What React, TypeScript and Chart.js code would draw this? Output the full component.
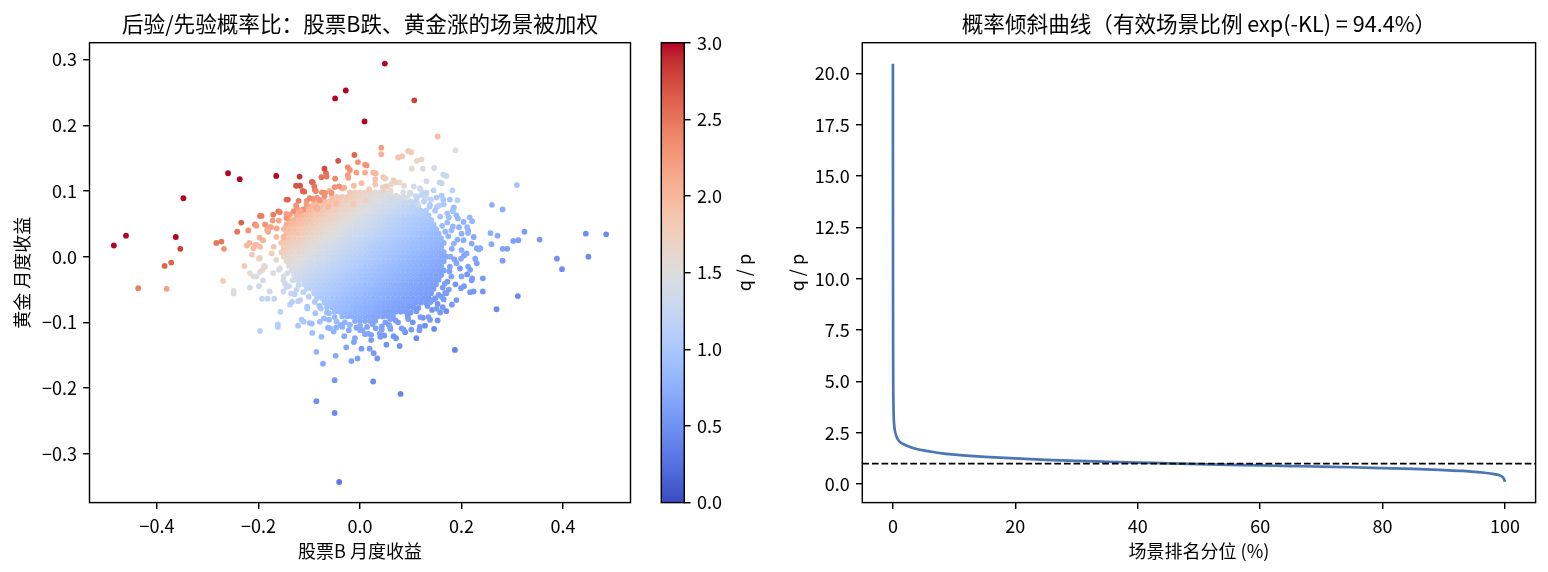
import { useEffect, useRef } from "react";
import { Chart, registerables } from "chart.js";

Chart.register(...registerables);

const FONT = "'Noto Sans CJK SC', 'Noto Sans', 'DejaVu Sans', sans-serif";

// ---------------- texts ----------------
const leftTitle = "后验/先验概率比：股票B跌、黄金涨的场景被加权";
const leftXLabel = "股票B 月度收益";
const leftYLabel = "黄金 月度收益";
const colorbarLabel = "q / p";
const rightTitle = "概率倾斜曲线（有效场景比例 exp(-KL) = 94.4%）";
const rightXLabel = "场景排名分位 (%)";
const rightYLabel = "q / p";

// ---------------- ticks ----------------
const scatterXTicks = [-0.4, -0.2, 0, 0.2, 0.4];
const scatterYTicks = [-0.3, -0.2, -0.1, 0, 0.1, 0.2, 0.3];
const colorbarTicks = [0, 0.5, 1, 1.5, 2, 2.5, 3];
const curveXTicks = [0, 20, 40, 60, 80, 100];
const curveYTicks = [0, 2.5, 5, 7.5, 10, 12.5, 15, 17.5, 20];

// colour range of q/p (vmin, vmax)
const colorRange = [0, 3];
// reference line q/p = 1
const referenceRatio = 1;

// ---------------- scatter: dense core (rows of y, x-values, q/p values) ----------------
const coreRows: [number, number[], number[]][] = [
  [0.098, [-0.02,-0.01,0,0.01,0.02,0.03,0.04,0.05,0.06],
    [1.82,1.77,1.72,1.67,1.63,1.59,1.54,1.50,1.46]],
  [0.091, [-0.055,-0.045,-0.035,-0.025,-0.015,-0.005,0.005,0.015,0.025,0.035,0.045,0.055,0.065,0.075,0.085],
    [1.94,1.89,1.84,1.79,1.74,1.69,1.64,1.60,1.56,1.51,1.47,1.43,1.39,1.36,1.32]],
  [0.084, [-0.09,-0.08,-0.07,-0.06,-0.05,-0.04,-0.03,-0.02,-0.01,0,0.01,0.02,0.03,0.04,0.05,0.06,0.07,0.08,0.09,0.1,0.11],
    [2.07,2.01,1.96,1.91,1.85,1.80,1.76,1.71,1.66,1.62,1.57,1.53,1.49,1.45,1.41,1.37,1.33,1.30,1.26,1.23,1.19]],
  [0.077, [-0.105,-0.095,-0.085,-0.075,-0.065,-0.055,-0.045,-0.035,-0.025,-0.015,-0.005,0.005,0.015,0.025,0.035,0.045,0.055,0.065,0.075,0.085,0.095,0.105,0.115],
    [2.09,2.03,1.98,1.92,1.87,1.82,1.77,1.72,1.68,1.63,1.59,1.54,1.50,1.46,1.42,1.38,1.35,1.31,1.27,1.24,1.21,1.17,1.14]],
  [0.070, [-0.12,-0.11,-0.1,-0.09,-0.08,-0.07,-0.06,-0.05,-0.04,-0.03,-0.02,-0.01,0,0.01,0.02,0.03,0.04,0.05,0.06,0.07,0.08,0.09,0.1,0.11,0.12,0.13],
    [2.11,2.05,2.00,1.94,1.89,1.84,1.79,1.74,1.69,1.65,1.60,1.56,1.52,1.48,1.44,1.40,1.36,1.32,1.29,1.25,1.22,1.18,1.15,1.12,1.09,1.06]],
  [0.063, [-0.125,-0.115,-0.105,-0.095,-0.085,-0.075,-0.065,-0.055,-0.045,-0.035,-0.025,-0.015,-0.005,0.005,0.015,0.025,0.035,0.045,0.055,0.065,0.075,0.085,0.095,0.105,0.115,0.125,0.135],
    [2.07,2.02,1.96,1.91,1.86,1.81,1.76,1.71,1.66,1.62,1.57,1.53,1.49,1.45,1.41,1.37,1.33,1.30,1.26,1.23,1.20,1.16,1.13,1.10,1.07,1.04,1.01]],
  [0.056, [-0.14,-0.13,-0.12,-0.11,-0.1,-0.09,-0.08,-0.07,-0.06,-0.05,-0.04,-0.03,-0.02,-0.01,0,0.01,0.02,0.03,0.04,0.05,0.06,0.07,0.08,0.09,0.1,0.11,0.12,0.13,0.14],
    [2.09,2.04,1.98,1.93,1.88,1.82,1.77,1.73,1.68,1.63,1.59,1.55,1.51,1.46,1.42,1.39,1.35,1.31,1.28,1.24,1.21,1.17,1.14,1.11,1.08,1.05,1.02,1.00,0.97]],
  [0.049, [-0.145,-0.135,-0.125,-0.115,-0.105,-0.095,-0.085,-0.075,-0.065,-0.055,-0.045,-0.035,-0.025,-0.015,-0.005,0.005,0.015,0.025,0.035,0.045,0.055,0.065,0.075,0.085,0.095,0.105,0.115,0.125,0.135,0.145],
    [2.05,2.00,1.94,1.89,1.84,1.79,1.74,1.69,1.65,1.60,1.56,1.52,1.48,1.44,1.40,1.36,1.32,1.29,1.25,1.22,1.19,1.15,1.12,1.09,1.06,1.03,1.01,0.98,0.95,0.93]],
  [0.042, [-0.15,-0.14,-0.13,-0.12,-0.11,-0.1,-0.09,-0.08,-0.07,-0.06,-0.05,-0.04,-0.03,-0.02,-0.01,0,0.01,0.02,0.03,0.04,0.05,0.06,0.07,0.08,0.09,0.1,0.11,0.12,0.13,0.14,0.15],
    [2.02,1.97,1.91,1.86,1.81,1.76,1.71,1.67,1.62,1.58,1.53,1.49,1.45,1.41,1.37,1.34,1.30,1.27,1.23,1.20,1.17,1.13,1.10,1.07,1.04,1.02,0.99,0.96,0.94,0.91,0.89]],
  [0.035, [-0.145,-0.135,-0.125,-0.115,-0.105,-0.095,-0.085,-0.075,-0.065,-0.055,-0.045,-0.035,-0.025,-0.015,-0.005,0.005,0.015,0.025,0.035,0.045,0.055,0.065,0.075,0.085,0.095,0.105,0.115,0.125,0.135,0.145,0.155],
    [1.93,1.88,1.83,1.78,1.73,1.68,1.64,1.59,1.55,1.51,1.47,1.43,1.39,1.35,1.31,1.28,1.24,1.21,1.18,1.14,1.11,1.08,1.05,1.03,1.00,0.97,0.94,0.92,0.89,0.87,0.85]],
  [0.028, [-0.15,-0.14,-0.13,-0.12,-0.11,-0.1,-0.09,-0.08,-0.07,-0.06,-0.05,-0.04,-0.03,-0.02,-0.01,0,0.01,0.02,0.03,0.04,0.05,0.06,0.07,0.08,0.09,0.1,0.11,0.12,0.13,0.14,0.15,0.16],
    [1.89,1.84,1.79,1.74,1.70,1.65,1.61,1.56,1.52,1.48,1.44,1.40,1.36,1.33,1.29,1.25,1.22,1.19,1.15,1.12,1.09,1.06,1.03,1.01,0.98,0.95,0.93,0.90,0.88,0.85,0.83,0.81]],
  [0.021, [-0.155,-0.145,-0.135,-0.125,-0.115,-0.105,-0.095,-0.085,-0.075,-0.065,-0.055,-0.045,-0.035,-0.025,-0.015,-0.005,0.005,0.015,0.025,0.035,0.045,0.055,0.065,0.075,0.085,0.095,0.105,0.115,0.125,0.135,0.145,0.155,0.165],
    [1.86,1.81,1.76,1.71,1.67,1.62,1.58,1.53,1.49,1.45,1.41,1.38,1.34,1.30,1.27,1.23,1.20,1.17,1.13,1.10,1.07,1.04,1.02,0.99,0.96,0.94,0.91,0.89,0.86,0.84,0.82,0.79,0.77]],
  [0.014, [-0.15,-0.14,-0.13,-0.12,-0.11,-0.1,-0.09,-0.08,-0.07,-0.06,-0.05,-0.04,-0.03,-0.02,-0.01,0,0.01,0.02,0.03,0.04,0.05,0.06,0.07,0.08,0.09,0.1,0.11,0.12,0.13,0.14,0.15,0.16],
    [1.78,1.73,1.68,1.64,1.59,1.55,1.51,1.47,1.43,1.39,1.35,1.31,1.28,1.24,1.21,1.18,1.15,1.11,1.08,1.05,1.03,1.00,0.97,0.95,0.92,0.89,0.87,0.85,0.82,0.80,0.78,0.76]],
  [0.007, [-0.155,-0.145,-0.135,-0.125,-0.115,-0.105,-0.095,-0.085,-0.075,-0.065,-0.055,-0.045,-0.035,-0.025,-0.015,-0.005,0.005,0.015,0.025,0.035,0.045,0.055,0.065,0.075,0.085,0.095,0.105,0.115,0.125,0.135,0.145,0.155,0.165],
    [1.75,1.70,1.65,1.61,1.57,1.52,1.48,1.44,1.40,1.36,1.33,1.29,1.26,1.22,1.19,1.16,1.13,1.10,1.07,1.04,1.01,0.98,0.95,0.93,0.90,0.88,0.85,0.83,0.81,0.79,0.77,0.75,0.72]],
  [0.0, [-0.15,-0.14,-0.13,-0.12,-0.11,-0.1,-0.09,-0.08,-0.07,-0.06,-0.05,-0.04,-0.03,-0.02,-0.01,0,0.01,0.02,0.03,0.04,0.05,0.06,0.07,0.08,0.09,0.1,0.11,0.12,0.13,0.14,0.15,0.16,0.17],
    [1.67,1.62,1.58,1.54,1.50,1.46,1.42,1.38,1.34,1.30,1.27,1.23,1.20,1.17,1.14,1.11,1.08,1.05,1.02,0.99,0.96,0.94,0.91,0.89,0.86,0.84,0.82,0.79,0.77,0.75,0.73,0.71,0.69]],
  [-0.007, [-0.145,-0.135,-0.125,-0.115,-0.105,-0.095,-0.085,-0.075,-0.065,-0.055,-0.045,-0.035,-0.025,-0.015,-0.005,0.005,0.015,0.025,0.035,0.045,0.055,0.065,0.075,0.085,0.095,0.105,0.115,0.125,0.135,0.145,0.155,0.165],
    [1.60,1.55,1.51,1.47,1.43,1.39,1.35,1.32,1.28,1.25,1.21,1.18,1.15,1.12,1.09,1.06,1.03,1.00,0.97,0.95,0.92,0.90,0.87,0.85,0.82,0.80,0.78,0.76,0.74,0.72,0.70,0.68]],
  [-0.014, [-0.14,-0.13,-0.12,-0.11,-0.1,-0.09,-0.08,-0.07,-0.06,-0.05,-0.04,-0.03,-0.02,-0.01,0,0.01,0.02,0.03,0.04,0.05,0.06,0.07,0.08,0.09,0.1,0.11,0.12,0.13,0.14,0.15,0.16],
    [1.52,1.48,1.44,1.40,1.37,1.33,1.29,1.26,1.22,1.19,1.16,1.13,1.10,1.07,1.04,1.01,0.98,0.96,0.93,0.90,0.88,0.86,0.83,0.81,0.79,0.77,0.75,0.73,0.71,0.69,0.67]],
  [-0.021, [-0.135,-0.125,-0.115,-0.105,-0.095,-0.085,-0.075,-0.065,-0.055,-0.045,-0.035,-0.025,-0.015,-0.005,0.005,0.015,0.025,0.035,0.045,0.055,0.065,0.075,0.085,0.095,0.105,0.115,0.125,0.135,0.145,0.155,0.165],
    [1.46,1.42,1.38,1.34,1.30,1.27,1.24,1.20,1.17,1.14,1.11,1.08,1.05,1.02,0.99,0.96,0.94,0.91,0.89,0.86,0.84,0.82,0.80,0.77,0.75,0.73,0.71,0.69,0.67,0.66,0.64]],
  [-0.028, [-0.13,-0.12,-0.11,-0.1,-0.09,-0.08,-0.07,-0.06,-0.05,-0.04,-0.03,-0.02,-0.01,0,0.01,0.02,0.03,0.04,0.05,0.06,0.07,0.08,0.09,0.1,0.11,0.12,0.13,0.14,0.15,0.16],
    [1.39,1.35,1.32,1.28,1.25,1.21,1.18,1.15,1.12,1.09,1.06,1.03,1.00,0.97,0.95,0.92,0.90,0.87,0.85,0.83,0.80,0.78,0.76,0.74,0.72,0.70,0.68,0.66,0.64,0.63]],
  [-0.035, [-0.125,-0.115,-0.105,-0.095,-0.085,-0.075,-0.065,-0.055,-0.045,-0.035,-0.025,-0.015,-0.005,0.005,0.015,0.025,0.035,0.045,0.055,0.065,0.075,0.085,0.095,0.105,0.115,0.125,0.135,0.145,0.155],
    [1.33,1.30,1.26,1.23,1.19,1.16,1.13,1.10,1.07,1.04,1.01,0.98,0.96,0.93,0.91,0.88,0.86,0.83,0.81,0.79,0.77,0.75,0.73,0.71,0.69,0.67,0.65,0.63,0.62]],
  [-0.042, [-0.11,-0.1,-0.09,-0.08,-0.07,-0.06,-0.05,-0.04,-0.03,-0.02,-0.01,0,0.01,0.02,0.03,0.04,0.05,0.06,0.07,0.08,0.09,0.1,0.11,0.12,0.13,0.14,0.15],
    [1.24,1.20,1.17,1.14,1.11,1.08,1.05,1.02,0.99,0.97,0.94,0.91,0.89,0.87,0.84,0.82,0.80,0.78,0.75,0.73,0.71,0.69,0.68,0.66,0.64,0.62,0.61]],
  [-0.049, [-0.105,-0.095,-0.085,-0.075,-0.065,-0.055,-0.045,-0.035,-0.025,-0.015,-0.005,0.005,0.015,0.025,0.035,0.045,0.055,0.065,0.075,0.085,0.095,0.105,0.115,0.125,0.135,0.145],
    [1.18,1.15,1.12,1.09,1.06,1.03,1.00,0.98,0.95,0.92,0.90,0.87,0.85,0.83,0.80,0.78,0.76,0.74,0.72,0.70,0.68,0.66,0.65,0.63,0.61,0.59]],
  [-0.056, [-0.09,-0.08,-0.07,-0.06,-0.05,-0.04,-0.03,-0.02,-0.01,0,0.01,0.02,0.03,0.04,0.05,0.06,0.07,0.08,0.09,0.1,0.11,0.12,0.13,0.14],
    [1.10,1.07,1.04,1.01,0.98,0.96,0.93,0.91,0.88,0.86,0.83,0.81,0.79,0.77,0.75,0.73,0.71,0.69,0.67,0.65,0.63,0.62,0.60,0.58]],
  [-0.063, [-0.085,-0.075,-0.065,-0.055,-0.045,-0.035,-0.025,-0.015,-0.005,0.005,0.015,0.025,0.035,0.045,0.055,0.065,0.075,0.085,0.095,0.105,0.115,0.125,0.135],
    [1.05,1.02,1.00,0.97,0.94,0.92,0.89,0.87,0.84,0.82,0.80,0.78,0.76,0.74,0.72,0.70,0.68,0.66,0.64,0.62,0.61,0.59,0.57]],
  [-0.070, [-0.07,-0.06,-0.05,-0.04,-0.03,-0.02,-0.01,0,0.01,0.02,0.03,0.04,0.05,0.06,0.07,0.08,0.09,0.1,0.11,0.12],
    [0.98,0.95,0.92,0.90,0.88,0.85,0.83,0.81,0.78,0.76,0.74,0.72,0.70,0.68,0.66,0.65,0.63,0.61,0.60,0.58]],
  [-0.077, [-0.065,-0.055,-0.045,-0.035,-0.025,-0.015,-0.005,0.005,0.015,0.025,0.035,0.045,0.055,0.065,0.075,0.085,0.095,0.105],
    [0.93,0.91,0.88,0.86,0.84,0.81,0.79,0.77,0.75,0.73,0.71,0.69,0.67,0.65,0.64,0.62,0.60,0.58]],
  [-0.084, [-0.05,-0.04,-0.03,-0.02,-0.01,0,0.01,0.02,0.03,0.04,0.05,0.06,0.07,0.08,0.09],
    [0.87,0.84,0.82,0.80,0.78,0.76,0.74,0.72,0.70,0.68,0.66,0.64,0.62,0.61,0.59]],
  [-0.091, [-0.035,-0.025,-0.015,-0.005,0.005,0.015,0.025,0.035,0.045,0.055,0.065],
    [0.81,0.79,0.76,0.74,0.72,0.70,0.68,0.67,0.65,0.63,0.61]],
  [-0.098, [-0.01,0,0.01,0.02,0.03],
    [0.73,0.71,0.69,0.67,0.65]],
];

// ---------------- scatter: outer scenarios [stock B return, gold return, q/p] ----------------
const outerScenarios: [number, number, number][] = [
  // rim of the cloud
  [-0.035,0.104,2.05],[-0.012,0.108,1.95],[0.018,0.103,1.8],[0.045,0.106,1.75],[0.06,0.101,1.6],[0.085,0.098,1.5],
  [-0.06,0.1,2.05],[0.003,0.112,1.95],[0.03,0.11,1.85],[0.11,0.092,1.35],[0.125,0.097,1.3],[0.14,0.087,1.2],
  [0.175,0.06,0.9],[0.18,0.04,0.85],[0.185,0.02,0.78],[0.178,0.0,0.72],[0.19,-0.01,0.68],[0.18,-0.03,0.64],
  [0.175,-0.05,0.6],[0.195,0.045,0.8],[0.2,0.01,0.72],[0.205,-0.045,0.58],[0.165,-0.065,0.6],[0.185,0.075,0.9],[0.165,0.08,1.0],
  [-0.03,-0.1,0.78],[0.0,-0.105,0.72],[0.025,-0.103,0.66],[0.05,-0.1,0.62],[0.07,-0.097,0.6],[0.1,-0.085,0.58],
  [0.115,-0.078,0.57],[0.13,-0.07,0.57],[0.145,-0.065,0.57],[-0.05,-0.092,0.82],[-0.065,-0.085,0.88],[-0.08,-0.075,0.94],
  [0.06,-0.11,0.6],[0.01,-0.118,0.66],
  [-0.165,0.03,1.95],[-0.17,0.015,1.85],[-0.165,-0.005,1.65],[-0.16,-0.02,1.5],[-0.15,-0.03,1.42],[-0.14,-0.045,1.3],
  [-0.125,-0.05,1.22],[-0.175,0.045,2.1],[-0.16,0.055,2.15],[-0.145,0.065,2.2],[-0.125,0.075,2.25],[-0.105,0.085,2.3],
  [-0.085,0.09,2.25],[-0.075,0.098,2.3],
  [0.174,0.031,0.79],[0.181,0.012,0.71],[0.186,-0.004,0.65],[0.176,-0.022,0.62],[0.192,0.026,0.73],[0.197,-0.018,0.59],
  [0.183,0.046,0.82],[0.172,0.052,0.87],[0.205,0.002,0.63],[0.211,-0.027,0.55],[0.193,0.058,0.84],[0.224,0.03,0.68],
  [0.172,-0.038,0.58],[0.188,-0.042,0.54],[0.2,0.035,0.75],
  [0.162,0.047,0.88],[0.158,0.061,0.94],[0.148,0.07,1.01],[0.137,0.076,1.07],[0.126,0.084,1.14],[0.112,0.09,1.22],
  [0.098,0.097,1.31],[0.168,0.038,0.83],[0.152,0.076,1.02],[0.131,0.097,1.2],[0.145,0.101,1.17],[0.118,0.104,1.28],
  [0.172,0.066,0.93],[0.161,0.093,1.08],
  [0.163,-0.047,0.57],[0.149,-0.063,0.55],[0.133,-0.075,0.55],[0.111,-0.083,0.56],[0.094,-0.091,0.57],[0.075,-0.1,0.57],
  [0.057,-0.104,0.59],[0.142,-0.081,0.52],[0.124,-0.093,0.52],[0.104,-0.1,0.53],[0.168,-0.055,0.54],[0.153,-0.072,0.52],
  [0.089,-0.115,0.51],[0.128,-0.105,0.48],[0.066,-0.121,0.53],[0.17,-0.083,0.48],[0.111,-0.124,0.46],[0.146,-0.11,0.45],
  [0.043,-0.106,0.61],[0.031,-0.109,0.62],[0.014,-0.107,0.65],[-0.007,-0.108,0.69],[-0.022,-0.112,0.71],[-0.038,-0.104,0.77],
  [0.048,-0.12,0.56],[0.022,-0.127,0.59],[-0.012,-0.13,0.64],[-0.031,-0.121,0.7],[-0.052,-0.114,0.76],[0.003,-0.14,0.58],
  [-0.027,-0.138,0.64],[0.052,-0.134,0.52],
  [-0.061,-0.086,0.89],[-0.077,-0.079,0.96],[-0.089,-0.069,1.03],[-0.101,-0.061,1.11],[-0.112,-0.054,1.18],[-0.121,-0.043,1.27],
  [-0.133,-0.036,1.35],[-0.143,-0.025,1.46],[-0.088,-0.086,0.95],[-0.104,-0.079,1.03],[-0.118,-0.066,1.13],[-0.136,-0.056,1.25],
  [-0.071,-0.094,0.88],[-0.148,-0.041,1.38],
  // upper-left warm fringe
  [-0.113,0.100,2.6],[-0.145,0.087,2.55],[-0.121,0.085,2.45],[-0.095,0.114,2.6],[-0.067,0.127,2.55],[0.010,0.140,2.25],
  [0.164,0.125,1.25],[0.157,0.113,1.25],[0.100,0.096,1.4],[-0.024,0.136,2.35],[-0.024,0.124,2.25],[-0.007,0.128,2.2],
  [0.010,0.128,2.1],[0.026,0.128,2.0],[0.046,0.121,1.85],[0.066,0.116,1.75],[0.072,0.113,1.7],[0.087,0.108,1.6],
  [0.052,0.107,1.8],[-0.041,0.107,2.3],[-0.069,0.097,2.35],[-0.056,0.097,2.3],[-0.089,0.102,2.45],[-0.099,0.089,2.4],
  [-0.079,0.086,2.3],[-0.085,0.074,2.2],[-0.112,0.072,2.3],[-0.131,0.069,2.35],[-0.145,0.059,2.3],[-0.161,0.069,2.5],
  [-0.171,0.064,2.45],[-0.187,0.049,2.3],[-0.197,0.062,2.5],[-0.207,0.049,2.35],[-0.181,0.038,2.15],[-0.164,0.043,2.15],
  [-0.151,0.030,2.0],[-0.207,0.018,2.0],[-0.197,0.015,1.95],[-0.191,0.025,2.05],[-0.210,0.013,1.95],[-0.213,0.003,1.8],
  [-0.197,-0.002,1.7],[-0.174,0.005,1.75],[-0.187,-0.015,1.55],[-0.197,-0.023,1.5],[-0.210,-0.030,1.5],[-0.191,-0.036,1.4],
  [-0.171,-0.025,1.45],[-0.158,-0.018,1.5],[-0.151,-0.036,1.35],[-0.145,-0.046,1.3],[-0.151,-0.053,1.3],[-0.122,-0.068,1.15],
  [-0.138,-0.073,1.15],[-0.115,-0.096,1.0],[-0.099,-0.101,0.95],[-0.079,-0.099,0.92],[-0.059,-0.109,0.82],[-0.046,-0.099,0.85],
  [-0.020,-0.104,0.78],[0.000,-0.112,0.72],[0.016,-0.117,0.68],[0.039,-0.117,0.65],[0.059,-0.107,0.65],[0.082,-0.109,0.6],
  [0.118,-0.107,0.56],[0.138,-0.096,0.55],[0.158,-0.085,0.55],[0.217,-0.054,0.55],[0.220,-0.036,0.58],[0.217,-0.020,0.62],
  [0.230,-0.010,0.62],[0.210,0.005,0.68],[0.220,0.020,0.7],[0.230,0.013,0.68],[0.204,0.025,0.72],[0.213,0.040,0.75],
  [0.204,0.053,0.78],[0.190,0.063,0.82],[0.184,0.074,0.88],[0.177,0.087,0.95],[0.164,0.087,1.0],[0.151,0.090,1.05],
  [0.138,0.079,1.05],[0.128,0.087,1.15],[0.121,0.094,1.2],[0.177,-0.015,0.65],[0.167,-0.041,0.62],[0.161,-0.061,0.6],
  [0.190,-0.066,0.56],[0.151,-0.079,0.58],
  // lower half scattered scenarios
  [-0.437,-0.048,2.45],[-0.381,-0.049,2.2],[-0.270,-0.037,1.75],[-0.249,-0.052,1.45],[-0.249,-0.056,1.45],[-0.228,-0.014,1.8],
  [-0.217,-0.025,1.55],[-0.217,-0.047,1.35],[-0.199,-0.045,1.35],[-0.197,-0.113,1.15],[-0.193,-0.064,1.25],[-0.182,-0.064,1.25],
  [-0.169,-0.064,1.25],[-0.162,-0.103,1.1],[-0.162,-0.107,1.1],[-0.157,-0.084,1.15],[-0.178,-0.053,1.35],[-0.204,-0.030,1.5],
  [-0.192,-0.020,1.6],[-0.189,-0.014,1.65],[-0.199,-0.003,1.75],[-0.122,-0.105,1.0],[-0.111,-0.099,1.0],[-0.094,-0.116,0.9],
  [-0.076,-0.122,0.85],[-0.086,-0.145,0.8],[-0.073,-0.163,0.72],[-0.048,-0.151,0.7],[-0.050,-0.188,0.55],[-0.086,-0.220,0.5],
  [-0.050,-0.238,0.45],[-0.041,-0.343,0.32],[0.026,-0.190,0.45],[0.080,-0.209,0.4],[-0.017,-0.159,0.62],[-0.005,-0.155,0.62],
  [0.019,-0.140,0.6],[0.027,-0.147,0.56],[0.034,-0.155,0.53],[0.071,-0.124,0.52],[0.078,-0.136,0.5],[0.187,-0.142,0.38],
  [0.269,-0.080,0.45],[0.311,-0.060,0.45],[0.224,-0.053,0.55],[0.242,-0.053,0.53],[0.242,-0.033,0.57],[0.221,-0.033,0.6],
  [0.199,-0.048,0.6],[0.181,-0.073,0.55],[0.163,-0.077,0.55],[0.153,-0.097,0.52],[0.086,-0.111,0.58],[0.101,-0.111,0.56],
  [0.117,-0.112,0.55],[0.135,-0.092,0.58],[0.119,-0.092,0.6],[0.095,-0.095,0.6],[0.060,-0.095,0.65],[0.043,-0.111,0.63],
  [0.022,-0.119,0.63],[0.040,-0.122,0.6],[0.005,-0.112,0.68],[-0.010,-0.124,0.68],[-0.035,-0.107,0.76],[-0.047,-0.108,0.78],
  [-0.061,-0.096,0.82],[-0.063,-0.108,0.8],[-0.095,-0.102,0.9],[-0.134,-0.069,1.1],[-0.129,-0.057,1.15],[-0.104,-0.076,1.0],
  [0.199,-0.003,0.7],[0.213,-0.015,0.65],[0.227,-0.003,0.67],[0.237,0.013,0.68],[0.200,-0.030,0.65],[0.155,-0.058,0.6],
  [0.139,-0.069,0.6],[0.170,-0.056,0.6],
  // upper half scattered scenarios
  [0.153,0.183,1.95],[0.188,0.162,1.5],[0.042,0.166,2.2],[0.042,0.156,2.05],[0.075,0.151,1.85],[0.083,0.153,1.85],
  [0.095,0.161,1.8],[0.101,0.159,1.8],[0.112,0.146,1.65],[0.121,0.148,1.6],[0.102,0.134,1.55],[0.124,0.134,1.45],
  [0.146,0.135,1.38],[0.170,0.123,1.25],[0.161,0.112,1.25],[0.131,0.115,1.35],[0.106,0.107,1.4],[0.119,0.103,1.35],
  [0.182,0.101,1.15],[0.192,0.086,1.1],[0.156,0.078,1.1],[0.183,0.069,0.95],[0.260,0.079,0.75],[0.281,0.072,0.72],
  [0.309,0.109,0.95],[0.216,0.060,0.85],[0.221,0.054,0.83],[0.211,0.045,0.82],[0.213,0.036,0.8],[0.257,0.036,0.72],
  [0.271,0.032,0.7],[0.324,0.038,0.6],[0.302,0.024,0.62],[0.312,0.025,0.6],[0.354,0.026,0.55],[0.281,0.012,0.63],
  [0.290,0.012,0.62],[0.281,-0.006,0.6],[0.445,0.035,0.48],[0.485,0.034,0.45],[0.450,0.000,0.45],[0.388,-0.003,0.5],
  [0.398,-0.019,0.48],[0.234,0.011,0.72],[0.259,0.019,0.7],
  [-0.119,0.122,2.85],[-0.126,0.108,2.7],[-0.118,0.108,2.7],[-0.110,0.099,2.6],[-0.142,0.087,2.6],[-0.043,0.146,2.7],
  [-0.070,0.134,2.75],[-0.076,0.121,2.5],[-0.066,0.122,2.5],[-0.049,0.119,2.4],[-0.011,0.155,2.6],[-0.004,0.144,2.3],
  [0.013,0.139,2.3],[0.031,0.127,2.0],[-0.020,0.132,2.3],[-0.023,0.120,2.2],[-0.050,0.106,2.3],[-0.031,0.105,2.1],
  [-0.093,0.113,2.6],[-0.090,0.107,2.5],[-0.087,0.100,2.4],[-0.070,0.092,2.3],[-0.093,0.088,2.3],[-0.158,0.068,2.45],
  [-0.194,0.062,2.45],[-0.234,0.052,2.6],[-0.242,0.038,2.5],[-0.220,0.040,2.3],[-0.204,0.047,2.25],[-0.178,0.045,2.15],
  [-0.172,0.055,2.25],[-0.198,0.029,2.05],[-0.283,0.021,2.5],[-0.273,0.023,2.5],[-0.268,0.012,2.3],[-0.223,0.017,2.0],
  [-0.218,0.021,2.0],[-0.204,0.018,1.95],[-0.183,0.041,2.1],[-0.138,0.064,2.2],[-0.117,0.069,2.15],[-0.126,0.078,2.3],
  [-0.105,0.080,2.2],[-0.084,0.073,2.05],[-0.063,0.077,2.0],[-0.047,0.081,1.95],[-0.013,0.080,1.8],[0.011,0.085,1.7],
  [0.030,0.118,1.9],[0.050,0.119,1.75],[0.061,0.110,1.65],[0.078,0.113,1.55],[0.047,0.101,1.7],[0.071,0.093,1.55],
  [0.093,0.090,1.45],[0.114,0.080,1.3],[0.131,0.090,1.3],
  // extreme scenarios
  [0.049,0.294,3.6],[-0.049,0.241,3.4],[-0.028,0.253,3.4],[0.107,0.238,2.8],[0.009,0.206,3.2],
  [-0.485,0.017,3.6],[-0.461,0.032,3.6],[-0.348,0.089,3.6],[-0.363,0.030,3.1],[-0.354,0.012,2.8],
  [-0.385,-0.014,2.6],[-0.372,-0.009,2.6],[-0.260,0.127,3.3],[-0.237,0.118,3.3],[-0.165,0.123,3.2],
];

// ---------------- tilt curve: sorted q/p vs rank percentile ----------------
const rankPercentile = [0, 0.02, 0.04, 0.06, 0.1, 0.15, 0.25, 0.4, 0.6, 1.0, 1.5, 2, 3, 4, 5, 6, 8, 10, 12, 15, 20, 25, 30, 35, 40, 45, 50, 55, 60, 65, 70, 75, 80, 85, 90, 93, 95, 97, 98, 99, 99.5, 99.8, 100];
const sortedRatio = [20.47, 9.5, 6.0, 4.6, 3.7, 3.15, 2.75, 2.5, 2.3, 2.1, 1.98, 1.9, 1.78, 1.7, 1.64, 1.59, 1.5, 1.44, 1.39, 1.33, 1.25, 1.18, 1.13, 1.09, 1.05, 1.01, 0.97, 0.94, 0.91, 0.88, 0.85, 0.82, 0.78, 0.74, 0.68, 0.64, 0.6, 0.54, 0.5, 0.44, 0.37, 0.27, 0.12];

// ---------------- style ----------------
const COOLWARM = [
  [59,76,192],[68,90,204],[77,104,215],[87,117,225],[98,130,234],[108,142,241],[119,154,247],[130,165,251],
  [141,176,254],[152,185,255],[163,194,255],[174,201,253],[184,208,249],[194,213,244],[204,217,238],[213,219,230],
  [221,221,221],[229,216,209],[236,211,197],[241,204,185],[245,196,173],[247,187,160],[247,177,148],[247,166,135],
  [244,154,123],[241,141,111],[236,127,99],[229,112,88],[222,96,77],[213,80,66],[203,62,56],[192,40,47],[180,4,38],
];
function coolwarm(t: number): string {
  const tt = Math.min(1, Math.max(0, t));
  const p = tt * (COOLWARM.length - 1);
  const i = Math.min(COOLWARM.length - 2, Math.floor(p));
  const f = p - i;
  const a = COOLWARM[i], b = COOLWARM[i + 1];
  const c = [0, 1, 2].map((k) => Math.round(a[k] + (b[k] - a[k]) * f));
  return `rgb(${c[0]},${c[1]},${c[2]})`;
}

const LW = 1.44;
const TICK_LEN = 6.3;
const TICK_FONT = { family: FONT, size: 18 };
const LABEL_FONT = { family: FONT, size: 18 };
const TITLE_SIZE = 21.6;
const CURVE_COLOR = "#4a76b4";

const fmt1 = (v: number) => (Math.abs(v) < 1e-9 ? 0 : v).toFixed(1).replace("-", "\u2212");
const fmt0 = (v: number) => String(Math.round(v));

function linearAxis(o: {
  min: number; max: number; ticks: number[]; fmt: (v: number) => string;
  size: number; horizontal: boolean; position?: string; title?: any;
}) {
  return {
    type: "linear",
    position: o.position,
    min: o.min,
    max: o.max,
    afterBuildTicks: (s: any) => { s.ticks = o.ticks.map((v) => ({ value: v })); },
    afterFit: (s: any) => { if (o.horizontal) s.height = o.size; else s.width = o.size; },
    ticks: {
      font: TICK_FONT, color: "#000", padding: 6.3, autoSkip: false,
      maxRotation: 0, minRotation: 0, callback: (v: any) => o.fmt(Number(v)),
    },
    grid: {
      display: true, drawOnChartArea: false, drawTicks: true, tickLength: TICK_LEN,
      color: "#000", lineWidth: LW, tickWidth: LW, tickColor: "#000",
    },
    border: { display: false },
    title: o.title ?? { display: false },
  };
}

const framePlugin = {
  id: "frame",
  afterDatasetsDraw(chart: any) {
    const { left, top, right, bottom } = chart.chartArea;
    const ctx = chart.ctx;
    ctx.save();
    ctx.strokeStyle = "#000";
    ctx.lineWidth = LW;
    ctx.strokeRect(left, top, right - left, bottom - top);
    ctx.restore();
  },
};

type FigText = { text: string; x: number; y: number; size: number; rotate?: boolean; baseline?: CanvasTextBaseline };
function textPlugin(id: string, items: FigText[]) {
  return {
    id,
    afterDraw(chart: any) {
      const ctx = chart.ctx as CanvasRenderingContext2D;
      for (const it of items) {
        ctx.save();
        ctx.fillStyle = "#000";
        ctx.font = `${it.size}px ${FONT}`;
        ctx.translate(it.x, it.y);
        if (it.rotate) ctx.rotate(-Math.PI / 2);
        ctx.textAlign = "center";
        ctx.textBaseline = it.baseline ?? "alphabetic";
        ctx.fillText(it.text, 0, 0);
        ctx.restore();
      }
    },
  };
}

// ---------------- layout (pixels) ----------------
const H = 572;
const A_W = 645;                 // scatter canvas
const B_LEFT = 645, B_W = 135;   // colorbar canvas
const C_LEFT = 780, C_W = 768;   // curve canvas
const AX_TOP = 42.7, AX_BOTTOM = 502.6;

export default function App() {
  const refA = useRef<HTMLCanvasElement>(null);
  const refB = useRef<HTMLCanvasElement>(null);
  const refC = useRef<HTMLCanvasElement>(null);

  useEffect(() => {
    const scatterData: { x: number; y: number; q: number }[] = [];
    for (const [y, xs, qs] of coreRows) xs.forEach((x, i) => scatterData.push({ x, y, q: qs[i] ?? 1 }));
    for (const [x, y, q] of outerScenarios) scatterData.push({ x, y, q });

    const vmin = colorRange[0], vmax = colorRange[1];

    const chartA = new Chart(refA.current!, {
      type: "scatter",
      data: {
        datasets: [{
          data: scatterData,
          pointRadius: 2.9,
          pointHoverRadius: 2.9,
          pointBorderWidth: 0,
          pointBorderColor: "rgba(0,0,0,0)",
          pointBackgroundColor: (ctx: any) => coolwarm(((ctx.raw?.q ?? 1) - vmin) / (vmax - vmin)),
        }],
      },
      options: {
        responsive: false, animation: false, devicePixelRatio: 1, events: [],
        layout: { padding: { left: 0, top: AX_TOP, right: A_W - 630.5, bottom: 0 } },
        plugins: { legend: { display: false }, tooltip: { enabled: false }, title: { display: false } },
        scales: {
          x: linearAxis({
            min: -0.533, max: 0.533, ticks: scatterXTicks, fmt: fmt1, size: H - AX_BOTTOM, horizontal: true,
            title: { display: true, text: leftXLabel, font: LABEL_FONT, color: "#000", padding: { top: 0, bottom: 10 } },
          }),
          y: linearAxis({
            min: -0.3744, max: 0.3258, ticks: scatterYTicks, fmt: fmt1, size: 89.5, horizontal: false,
            title: { display: true, text: leftYLabel, font: LABEL_FONT, color: "#000", padding: { top: 10.9, bottom: 0 } },
          }),
        },
      } as any,
      plugins: [framePlugin, textPlugin("titleA", [{ text: leftTitle, x: 360, y: 31.9, size: TITLE_SIZE }])],
    } as any);

    const chartB = new Chart(refB.current!, {
      type: "bar",
      data: {
        labels: [""],
        datasets: [{
          data: [[vmin, vmax]],
          borderWidth: 0,
          barPercentage: 1,
          categoryPercentage: 1,
          backgroundColor: (ctx: any) => {
            const ca = ctx.chart.chartArea;
            if (!ca) return coolwarm(0.5);
            const g = ctx.chart.ctx.createLinearGradient(0, ca.bottom, 0, ca.top);
            COOLWARM.forEach((c, i) => g.addColorStop(i / (COOLWARM.length - 1), `rgb(${c[0]},${c[1]},${c[2]})`));
            return g;
          },
        }],
      },
      options: {
        responsive: false, animation: false, devicePixelRatio: 1, events: [],
        layout: { padding: { left: 661.3 - B_LEFT, top: AX_TOP, right: 0, bottom: H - AX_BOTTOM } },
        plugins: { legend: { display: false }, tooltip: { enabled: false }, title: { display: false } },
        scales: {
          x: { display: false },
          y: linearAxis({
            min: vmin, max: vmax, ticks: colorbarTicks, fmt: fmt1, size: B_LEFT + B_W - 684.3,
            horizontal: false, position: "right",
          }),
        },
      } as any,
      plugins: [framePlugin, textPlugin("labelB", [{
        text: colorbarLabel, x: 744 - B_LEFT, y: (AX_TOP + AX_BOTTOM) / 2, size: 18, rotate: true, baseline: "middle",
      }])],
    } as any);

    const chartC = new Chart(refC.current!, {
      type: "line",
      data: {
        datasets: [
          {
            data: rankPercentile.map((x, i) => ({ x, y: sortedRatio[i] })),
            borderColor: CURVE_COLOR, borderWidth: 2.7, pointRadius: 0, fill: false,
            cubicInterpolationMode: "monotone", order: 1,
          },
          {
            data: [{ x: -5, y: referenceRatio }, { x: 105, y: referenceRatio }],
            borderColor: "#000", borderWidth: 1.8, borderDash: [6.7, 2.9], pointRadius: 0, fill: false, order: 0,
          },
        ],
      },
      options: {
        responsive: false, animation: false, devicePixelRatio: 1, events: [],
        layout: { padding: { left: 0, top: AX_TOP, right: C_LEFT + C_W - 1535.6, bottom: 0 } },
        plugins: { legend: { display: false }, tooltip: { enabled: false }, title: { display: false } },
        scales: {
          x: linearAxis({
            min: -5, max: 105, ticks: curveXTicks, fmt: fmt0, size: H - AX_BOTTOM, horizontal: true,
            title: { display: true, text: rightXLabel, font: LABEL_FONT, color: "#000", padding: { top: 0, bottom: 10 } },
          }),
          y: linearAxis({
            min: -0.9, max: 21.49, ticks: curveYTicks, fmt: fmt1, size: 862.3 - C_LEFT, horizontal: false,
            title: { display: true, text: rightYLabel, font: LABEL_FONT, color: "#000", padding: { top: 6.7, bottom: 0 } },
          }),
        },
      } as any,
      plugins: [framePlugin, textPlugin("titleC", [{ text: rightTitle, x: (862.3 + 1535.6) / 2 - C_LEFT, y: 31.9, size: TITLE_SIZE }])],
    } as any);

    return () => { chartA.destroy(); chartB.destroy(); chartC.destroy(); };
  }, []);

  return (
    <div style={{ position: "absolute", left: 0, top: 0, width: 1548, height: H, background: "#fff" }}>
      <canvas ref={refA} width={A_W} height={H} style={{ position: "absolute", left: 0, top: 0 }} />
      <canvas ref={refB} width={B_W} height={H} style={{ position: "absolute", left: B_LEFT, top: 0 }} />
      <canvas ref={refC} width={C_W} height={H} style={{ position: "absolute", left: C_LEFT, top: 0 }} />
    </div>
  );
}
